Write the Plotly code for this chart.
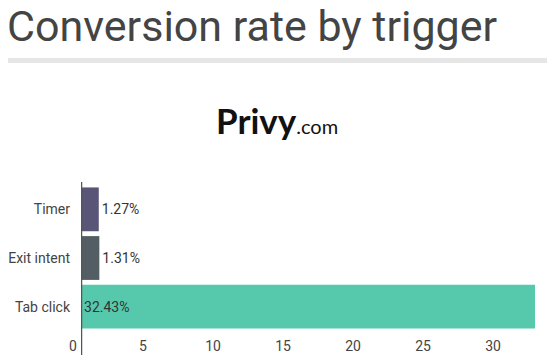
import plotly.graph_objects as go

categories = ["Timer", "Exit intent", "Tab click"]
rates = [1.27, 1.31, 32.43]
rate_labels = ["1.27%", "1.31%", "32.43%"]
bar_colors = ["#595577", "#525e63", "#56c9ad"]
tick_values = [0, 5, 10, 15, 20, 25, 30]

W, H = 553, 361
L, R, T, B = 81, 17, 185, 30
plot_w = W - L - R
plot_h = H - T - B

def px_x(px):
    return (px - L) / plot_w

def px_y(py):
    return (H - B - py) / plot_h

fig = go.Figure()
fig.add_trace(go.Bar(
    y=categories,
    x=rates,
    orientation="h",
    marker=dict(color=bar_colors, line=dict(width=0)),
    text=rate_labels,
    textposition=["outside", "outside", "inside"],
    insidetextanchor="start",
    textfont=dict(family="Roboto", size=14, color="#333333"),
    outsidetextfont=dict(family="Roboto", size=14, color="#333333"),
    insidetextfont=dict(family="Roboto", size=14, color="#333333"),
    cliponaxis=False,
    hoverinfo="skip",
))

fig.update_layout(
    width=W, height=H,
    autosize=False,
    margin=dict(l=L, r=R, t=T, b=B, pad=0, autoexpand=False),
    paper_bgcolor="white",
    plot_bgcolor="white",
    showlegend=False,
    bargap=0.1,
    font=dict(family="Roboto", size=14, color="#444444"),
    title=dict(
        text="Conversion rate by trigger",
        font=dict(family="Roboto", size=43, color="#444444"),
        x=7 / W, xanchor="left", xref="container",
        y=1 - 26 / H, yanchor="middle", yref="container",
        automargin=False,
    ),
    xaxis=dict(
        range=[0, 32.5],
        tickvals=tick_values,
        showgrid=False, zeroline=False, showline=False,
        ticks="",
        ticklabelshift=-8,
        ticklabelstandoff=5,
        tickfont=dict(family="Roboto", size=14, color="#444444"),
        automargin=False,
        fixedrange=True,
    ),
    yaxis=dict(
        categoryorder="array",
        categoryarray=categories,
        autorange="reversed",
        showgrid=False, zeroline=False, showline=False,
        ticks="",
        ticklabelstandoff=10,
        tickfont=dict(family="Roboto", size=14, color="#444444"),
        automargin=False,
        fixedrange=True,
    ),
    shapes=[
        dict(type="line", xref="paper", yref="paper",
             x0=px_x(8), x1=px_x(547), y0=px_y(60.5), y1=px_y(60.5),
             line=dict(color="#e6e6e6", width=5)),
        dict(type="line", xref="x", yref="paper",
             x0=0, x1=0, y0=px_y(355), y1=px_y(182),
             line=dict(color="#555555", width=2.5)),
    ],
    annotations=[
        dict(
            text="<b>Privy</b><span style='font-size:20px;font-weight:normal'>.com</span>",
            xref="paper", yref="paper",
            x=px_x(277), y=px_y(120),
            xanchor="center", yanchor="middle",
            showarrow=False,
            font=dict(family="Lato", size=35, color="#111111"),
        )
    ],
)

fig.write_html(
    "out.html",
    config={"displayModeBar": False, "staticPlot": True},
    post_script="document.body.style.margin='0';document.body.style.overflow='hidden';",
)
